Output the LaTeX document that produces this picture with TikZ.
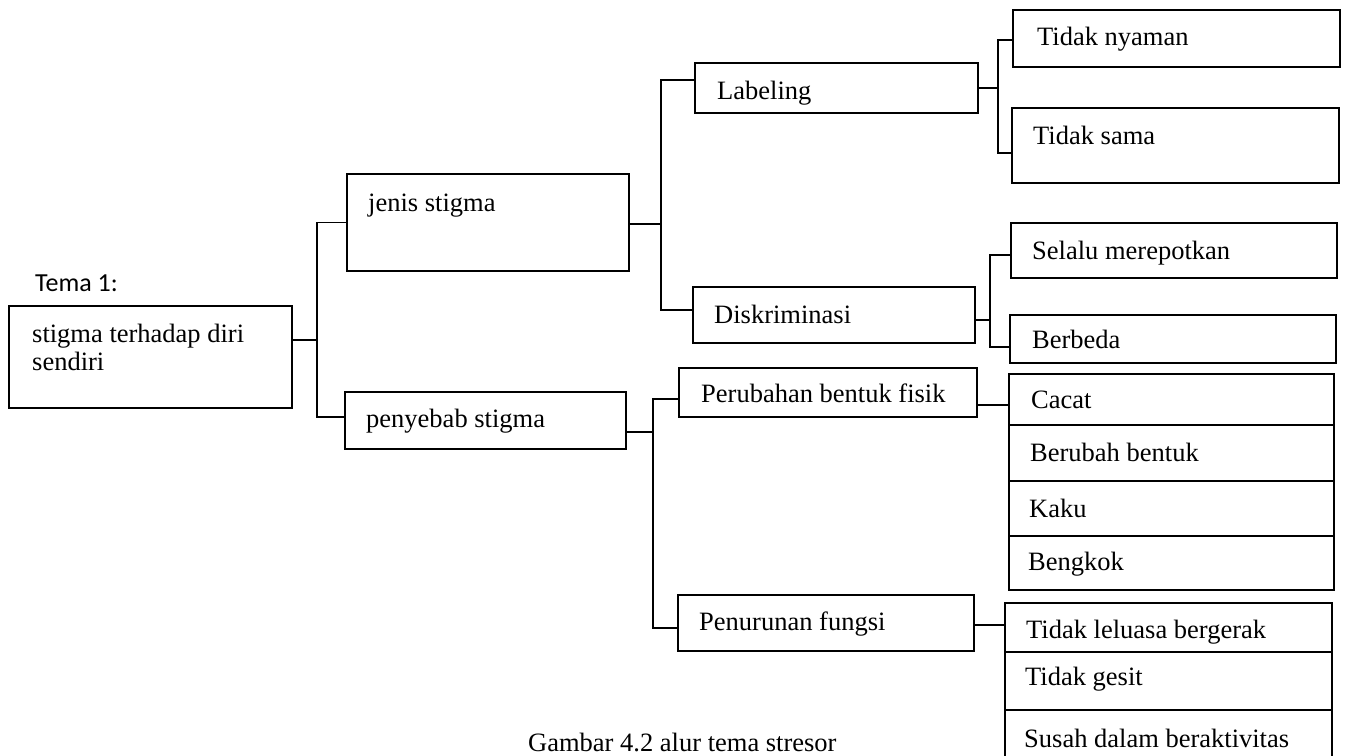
\documentclass[tikz,border=0pt]{standalone}
\usepackage{fontspec}
\setmainfont{Liberation Serif}
\newfontfamily\temafont{Carlito}
\begin{document}
\begin{tikzpicture}[x=1pt,y=-1pt,
  box/.style={draw, line width=1.8pt, anchor=north west, inner sep=0pt, outer sep=0pt},
  txt/.style={anchor=base west, inner sep=0pt, font=\fontsize{26.5}{30}\selectfont},
  con/.style={line width=1.6pt}]
\useasboundingbox (0,0) rectangle (1348,755);
% boxes
\node[box, minimum width=283pt, minimum height=102pt] (main) at (9,306) {};
\node[box, minimum width=282pt, minimum height=97pt] (jenis) at (347,174) {};
\node[box, minimum width=281pt, minimum height=57pt] (peny) at (345,392) {};
\node[box, minimum width=283pt, minimum height=50pt] (label) at (695,63) {};
\node[box, minimum width=282pt, minimum height=56pt] (disk) at (693,287) {};
\node[box, minimum width=298pt, minimum height=49pt] (perub) at (679,368) {};
\node[box, minimum width=296pt, minimum height=56pt] (penur) at (678,595) {};
\node[box, minimum width=327pt, minimum height=57pt] (tnyam) at (1013,10) {};
\node[box, minimum width=327pt, minimum height=75pt] (tsama) at (1012,108) {};
\node[box, minimum width=326pt, minimum height=55pt] (selalu) at (1011,223) {};
\node[box, minimum width=326pt, minimum height=48pt] (berbeda) at (1010,315) {};
\node[box, minimum width=325pt, minimum height=51pt] (cacat) at (1009,374) {};
\node[box, minimum width=325pt, minimum height=56pt] (berubah) at (1009,425) {};
\node[box, minimum width=325pt, minimum height=55pt] (kaku) at (1009,481) {};
\node[box, minimum width=325pt, minimum height=54pt] (bengkok) at (1009,536) {};
\node[box, minimum width=327pt, minimum height=49pt] (leluasa) at (1005,603) {};
\node[box, minimum width=327pt, minimum height=58pt] (gesit) at (1005,652) {};
\node[box, minimum width=327pt, minimum height=52pt] (susah) at (1005,710) {};
% texts
\node[anchor=base west, inner sep=0pt, font=\temafont\fontsize{26}{30}\selectfont] (tema) at (35,291) {Tema 1:};
\node[txt] (tmain1) at (32,342) {stigma terhadap diri};
\node[txt] (tmain2) at (32,370) {sendiri};
\node[txt] (tjenis) at (368,211) {jenis stigma};
\node[txt] (tpeny) at (366,427) {penyebab stigma};
\node[txt] (tlabel) at (717,99) {Labeling};
\node[txt] (tdisk) at (714,323) {Diskriminasi};
\node[txt] (tperub) at (701,402) {Perubahan bentuk fisik};
\node[txt] (tpenur) at (699,630) {Penurunan fungsi};
\node[txt] (ttnyam) at (1037,45) {Tidak nyaman};
\node[txt] (ttsama) at (1033,144) {Tidak sama};
\node[txt] (tselalu) at (1032,259) {Selalu merepotkan};
\node[txt] (tberbeda) at (1032,348) {Berbeda};
\node[txt] (tcacat) at (1031,408) {Cacat};
\node[txt] (tberubah) at (1030,461) {Berubah bentuk};
\node[txt] (tkaku) at (1029,517) {Kaku};
\node[txt] (tbengkok) at (1028,570) {Bengkok};
\node[txt] (tleluasa) at (1026,638) {Tidak leluasa bergerak};
\node[txt] (tgesit) at (1025,685) {Tidak gesit};
\node[txt] (tsusah) at (1024,747) {Susah dalam beraktivitas};
\node[txt] (cap) at (528,751) {Gambar 4.2 alur tema stresor};
% connectors
\coordinate (j1) at (317,340);
\draw[con] (main.east |- j1) -- (j1);
\draw[con] (jenis.west) -| (j1) |- (peny.west |- 0,417);
\coordinate (j2) at (661,224);
\draw[con] (jenis.east |- j2) -- (j2);
\draw[con] (label.west |- 0,80) -| (j2) |- (disk.west |- 0,310);
\coordinate (j3) at (998,88);
\draw[con] (label.east |- j3) -- (j3);
\draw[con] (tnyam.west |- 0,40) -| (j3) |- (tsama.west |- 0,153);
\coordinate (j4) at (990,320);
\draw[con] (disk.east |- j4) -- (j4);
\draw[con] (selalu.west |- 0,255) -| (j4) |- (berbeda.west |- 0,347);
\coordinate (j5) at (653,432);
\draw[con] (peny.east |- j5) -- (j5);
\draw[con] (perub.west |- 0,399) -| (j5) |- (penur.west |- 0,628);
\draw[con] (perub.east |- 0,405) -- (cacat.west |- 0,405);
\draw[con] (penur.east |- 0,625) -- (leluasa.west |- 0,625);
\end{tikzpicture}
\end{document}
